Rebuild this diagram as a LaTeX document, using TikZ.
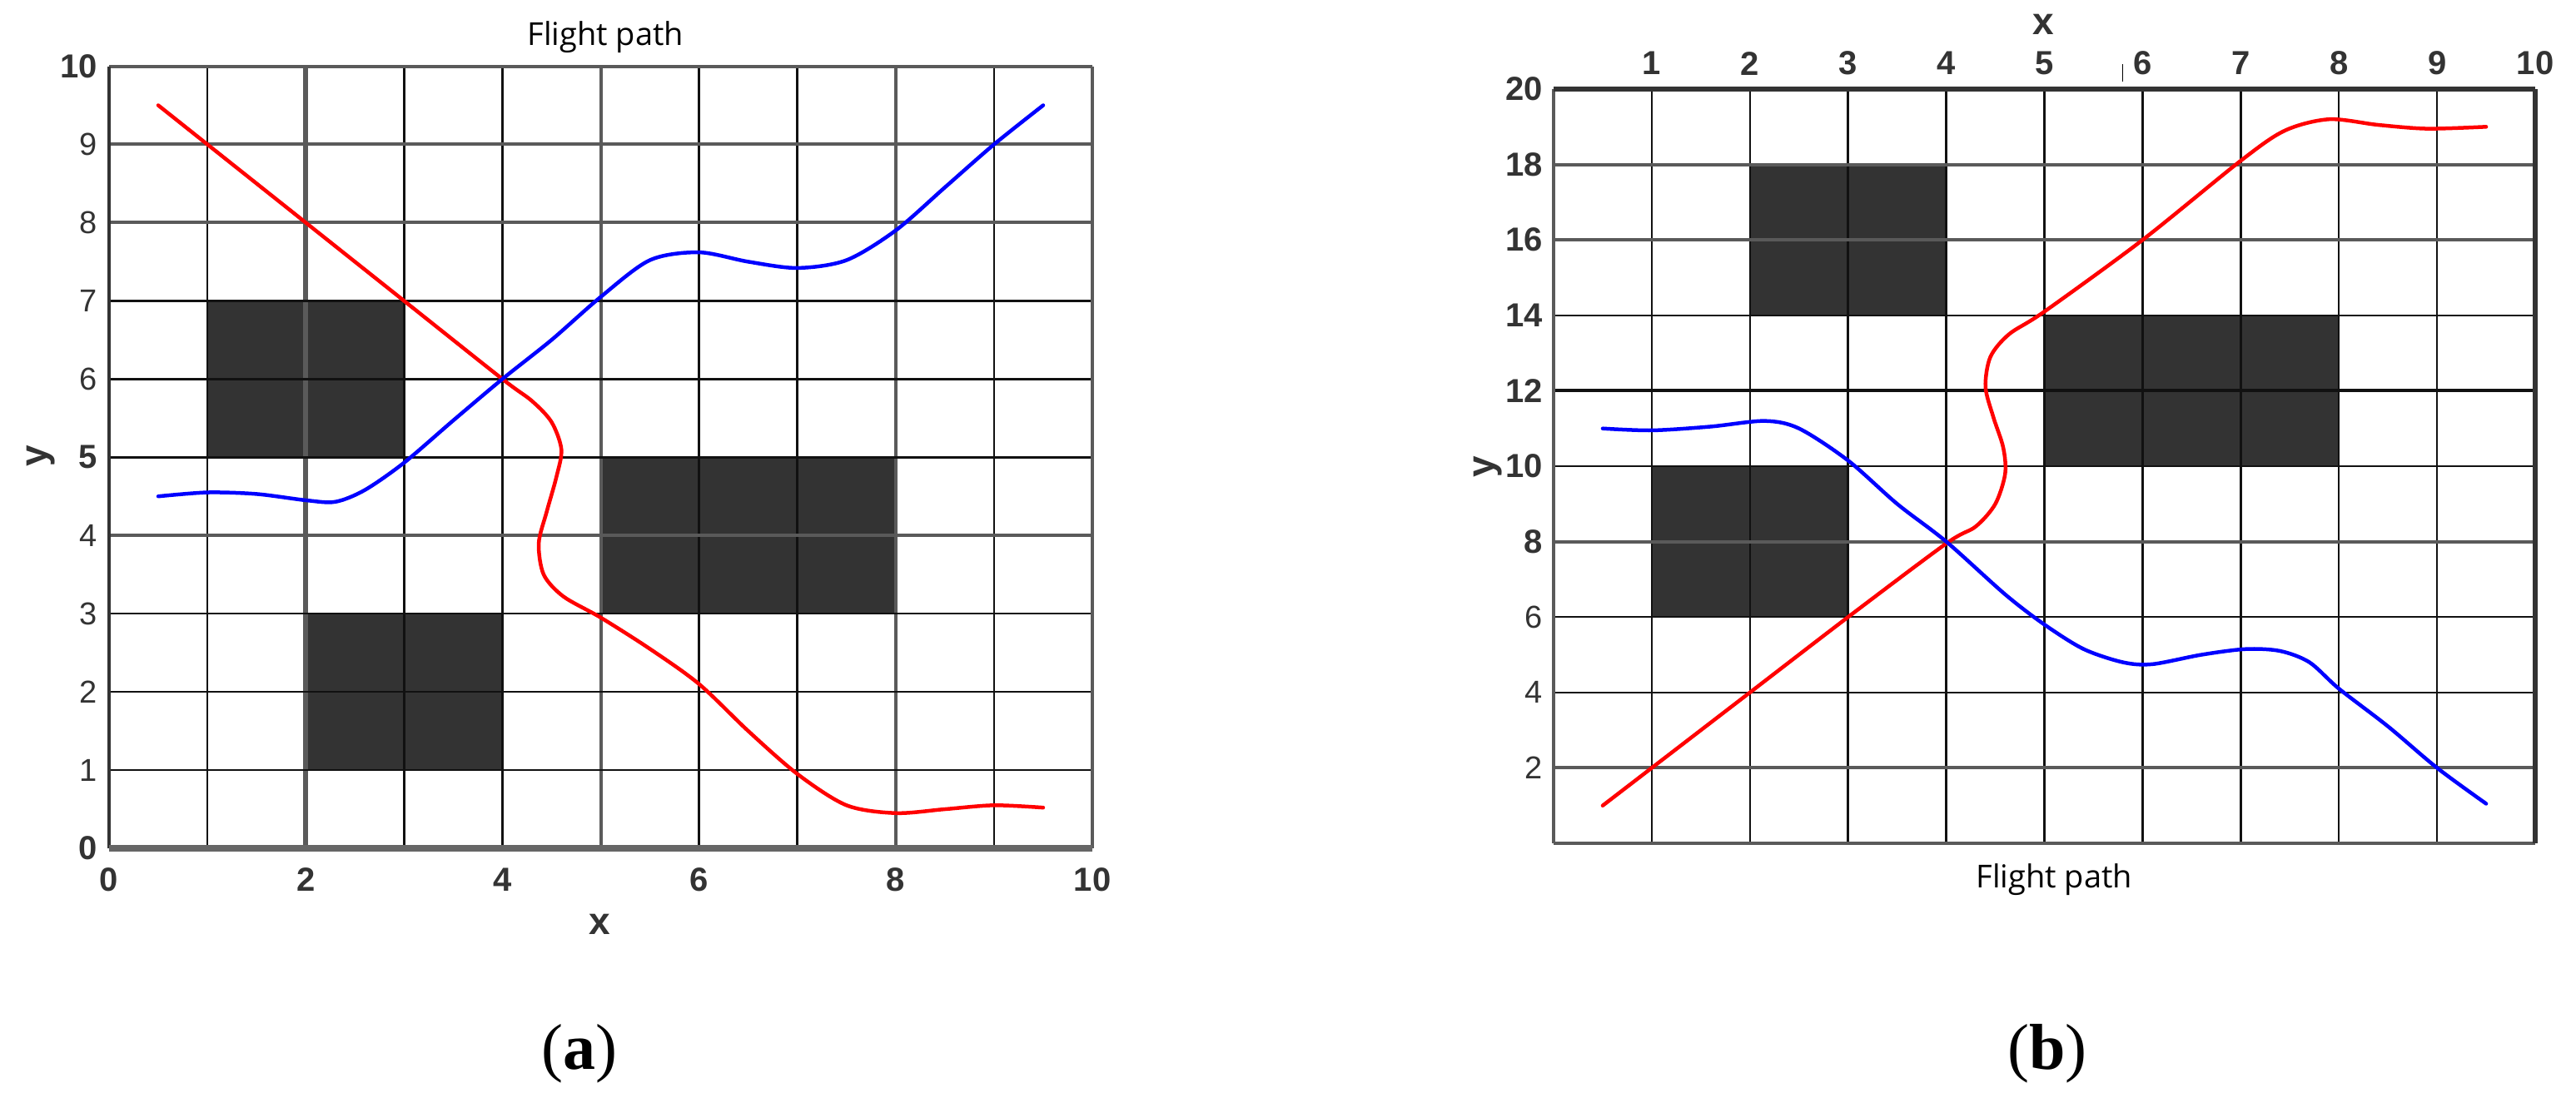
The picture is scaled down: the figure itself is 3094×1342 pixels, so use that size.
\documentclass[tikz,border=0pt]{standalone}
\usepackage{fontspec}
\setmainfont{Liberation Serif}
\newfontfamily\lsans{Liberation Sans}
\newfontfamily\osans{Open Sans}
\definecolor{blk}{HTML}{333333}
\definecolor{gridk}{HTML}{111111}
\definecolor{gridg}{HTML}{5A5A5A}
\definecolor{axg}{HTML}{666666}
\definecolor{pred}{HTML}{FF0000}
\definecolor{pblue}{HTML}{0000FF}
\tikzset{
  obst/.style={fill=blk, draw=none},
  gk/.style={draw=gridk, line width=2.5pt},
  gkt/.style={draw=gridk, line width=4pt},
  gg/.style={draw=gridg, line width=4pt},
  ggt/.style={draw=gridg, line width=6pt},
  bordk/.style={draw=blk, line width=6pt},
  bordb/.style={draw=axg, line width=8pt},
  redpath/.style={draw=pred, line width=4.5pt, line cap=round, line join=round},
  bluepath/.style={draw=pblue, line width=4.5pt, line cap=round, line join=round},
  tickb/.style={font=\lsans\bfseries\fontsize{40}{44}\selectfont, text=blk, inner sep=0pt},
  tickn/.style={font=\lsans\fontsize{38}{42}\selectfont, text=blk, inner sep=0pt},
  axlab/.style={font=\lsans\bfseries\fontsize{46}{50}\selectfont, text=blk, inner sep=0pt},
  ttl/.style={font=\osans\fontsize{38}{44}\selectfont, inner sep=0pt, anchor=base},
  subcap/.style={font=\fontsize{78}{86}\selectfont, inner sep=0pt, anchor=base},
}
\begin{document}
\begin{tikzpicture}[x=1pt,y=-1pt]
\useasboundingbox[fill=white] (0,0) rectangle (3094,1342);

% ---------------- (a) ----------------
\begin{scope}[shift={(131pt,-1019pt)}, x=118.1pt, y=93.95pt]
  \fill[obst] (1,5) rectangle (3,7);
  \fill[obst] (2,1) rectangle (4,3);
  \fill[obst] (5,3) rectangle (8,5);
  % grid
  \foreach \i in {1,3,4,6,7,9} \draw[gk] (\i,0) -- (\i,10);
  \draw[ggt] (2,0) -- (2,10);
  \foreach \i in {5,8} \draw[gg] (\i,0) -- (\i,10);
  \foreach \j in {1,2,3,5,6,7} \draw[gk] (0,\j) -- (10,\j);
  \foreach \j in {4,8,9} \draw[gg] (0,\j) -- (10,\j);
  \draw[gg] (0,10) -- (10,10);
  \draw[gg] (10,0) -- (10,10);
  \draw[draw=blk, line width=4pt] (0,0) -- (0,10);
  \draw[bordb] (0,0) -- (10,0);
  % paths
  \draw[redpath] plot[smooth, tension=0.5] coordinates {(0.5,9.5) (1,9) (2,8) (3,7) (4,6) (4.3,5.72) (4.5,5.45) (4.6,5.1) (4.55,4.75) (4.45,4.3) (4.37,3.9) (4.42,3.5) (4.62,3.22) (5,2.95) (5.5,2.55) (6,2.1) (6.5,1.5) (7,0.95) (7.5,0.55) (8,0.45) (8.5,0.5) (9,0.55) (9.5,0.52)};
  \draw[bluepath] plot[smooth, tension=0.5] coordinates {(0.5,4.5) (1,4.55) (1.5,4.53) (2,4.45) (2.3,4.43) (2.6,4.58) (3,4.93) (3.5,5.47) (4,6.0) (4.5,6.5) (5,7.05) (5.5,7.52) (6,7.62) (6.5,7.5) (7,7.42) (7.5,7.52) (8,7.9) (8.5,8.45) (9,9) (9.5,9.5)};
  % tick labels
  \foreach \j in {1,2,3,4,6,7,8,9} \node[tickn, anchor=east] (ay\j) at (-0.12,\j) {\j};
  \foreach \j in {0,5,10} \node[tickb, anchor=east] (ay\j) at (-0.12,\j) {\j};
  \foreach \i in {0,2,4,6,8,10} \node[tickb] (ax\i) at (\i,-0.4) {\i};
  \node[axlab] (axlabx) at (4.99,-0.97) {x};
  \node[axlab, rotate=90] (axlaby) at (-0.694,5.02) {y};
  \node[ttl] (atitle) at (5.05,10.27) {Flight path};
  \node[subcap] (acap) at (4.78,-2.83) {(\textbf{a})};
\end{scope}

% ---------------- (b) ----------------
\begin{scope}[shift={(1866pt,-1013pt)}, x=117.9pt, y=45.3pt]
  \fill[obst] (2,14) rectangle (4,18);
  \fill[obst] (5,10) rectangle (8,14);
  \fill[obst] (1,6) rectangle (3,10);
  \foreach \i in {1,...,9} \draw[gk] (\i,0) -- (\i,20);
  \foreach \j in {4,6,10,14} \draw[gk] (0,\j) -- (10,\j);
  \foreach \j in {2,8,16,18} \draw[gg] (0,\j) -- (10,\j);
  \draw[gkt] (0,12) -- (10,12);
  \draw[gg] (0,0) -- (0,20);
  \draw[gg] (0,0) -- (10,0);
  \draw[bordk] (0,20) -- (10,20);
  \draw[bordk] (10,0) -- (10,20);
  \draw[draw=black, line width=1.2pt] (5.8,20.2) -- (5.8,20.66);
  % paths
  \draw[redpath] plot[smooth, tension=0.5] coordinates {(0.5,1) (1,2) (2,4) (3,6) (4,7.95) (4.3,8.4) (4.5,9.0) (4.6,9.8) (4.58,10.5) (4.48,11.3) (4.4,12.1) (4.45,12.9) (4.64,13.5) (5,14.1) (6,16) (7,18.1) (7.45,18.9) (7.9,19.2) (8.4,19.05) (8.9,18.95) (9.5,19.0)};
  \draw[bluepath] plot[smooth, tension=0.5] coordinates {(0.5,11) (1,10.95) (1.6,11.05) (2.15,11.2) (2.5,11.0) (3,10.15) (3.5,9.0) (4,8) (4.6,6.6) (5,5.8) (5.4,5.15) (5.8,4.8) (6.1,4.75) (6.6,5.0) (7.05,5.15) (7.4,5.1) (7.7,4.8) (8,4.1) (8.5,3.1) (9,2.0) (9.5,1.05)};
  % labels
  \foreach \i in {1,...,10} \node[tickb] (bx\i) at (\i,20.68) {\i};
  \foreach \j in {8,10,12,14,16,18,20} \node[tickb, anchor=east] (by\j) at (-0.11,\j) {\j};
  \foreach \j in {2,4,6} \node[tickn, anchor=east] (by\j) at (-0.11,\j) {\j};
  \node[axlab] (bxlab) at (4.99,21.72) {x};
  \node[axlab, rotate=90] (bylab) at (-0.67,9.98) {y};
  \node[ttl] (btitle) at (5.10,-1.19) {Flight path};
  \node[subcap] (bcap) at (5.03,-6.0) {(\textbf{b})};
\end{scope}
\end{tikzpicture}
\end{document}
